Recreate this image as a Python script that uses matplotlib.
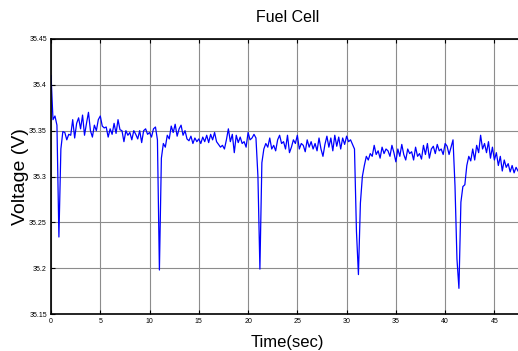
import numpy as np
import matplotlib
matplotlib.use("Agg")
import matplotlib.pyplot as plt

# sample period of the trace (sec)
dt = 0.2

# fuel cell voltage, every 0.2 s from t = 0
voltage = [
    # 0 - 5 s
    35.410, 35.362, 35.366, 35.356, 35.234, 35.330, 35.349, 35.348, 35.340, 35.346,
    35.345, 35.362, 35.342, 35.358, 35.364, 35.352, 35.367, 35.345, 35.358, 35.370,
    35.350, 35.343, 35.356, 35.350, 35.362,
    # 5 - 10 s
    35.366, 35.355, 35.353, 35.354, 35.343, 35.352, 35.346, 35.358, 35.347, 35.362,
    35.351, 35.350, 35.338, 35.350, 35.345, 35.348, 35.340, 35.350, 35.346, 35.341,
    35.350, 35.337, 35.350, 35.352, 35.346,
    # 10 - 15 s
    35.348, 35.343, 35.352, 35.354, 35.340, 35.198, 35.320, 35.336, 35.332, 35.345,
    35.341, 35.355, 35.348, 35.357, 35.344, 35.352, 35.356, 35.345, 35.350, 35.341,
    35.339, 35.344, 35.336, 35.342, 35.338,
    # 15 - 20 s
    35.341, 35.336, 35.343, 35.338, 35.345, 35.337, 35.346, 35.340, 35.348, 35.338,
    35.335, 35.332, 35.334, 35.330, 35.340, 35.352, 35.338, 35.346, 35.326, 35.345,
    35.337, 35.343, 35.336, 35.338, 35.332,
    # 20 - 25 s
    35.348, 35.340, 35.342, 35.346, 35.342, 35.300, 35.199, 35.315, 35.330, 35.336,
    35.332, 35.342, 35.330, 35.334, 35.328, 35.340, 35.345, 35.336, 35.338, 35.330,
    35.345, 35.326, 35.332, 35.340, 35.336,
    # 25 - 30 s
    35.345, 35.330, 35.336, 35.334, 35.327, 35.340, 35.332, 35.338, 35.330, 35.336,
    35.328, 35.342, 35.330, 35.322, 35.335, 35.344, 35.332, 35.342, 35.328, 35.345,
    35.333, 35.343, 35.330, 35.342, 35.335,
    # 30 - 35 s
    35.344, 35.338, 35.340, 35.335, 35.330, 35.240, 35.193, 35.271, 35.300, 35.312,
    35.322, 35.318, 35.325, 35.322, 35.334, 35.324, 35.328, 35.320, 35.332, 35.325,
    35.330, 35.328, 35.322, 35.334, 35.326,
    # 35 - 40 s
    35.316, 35.330, 35.322, 35.335, 35.324, 35.318, 35.330, 35.325, 35.327, 35.318,
    35.332, 35.322, 35.325, 35.319, 35.334, 35.324, 35.336, 35.320, 35.330, 35.333,
    35.325, 35.335, 35.328, 35.330, 35.324,
    # 40 - 45 s
    35.336, 35.333, 35.324, 35.332, 35.340, 35.290, 35.210, 35.178, 35.272, 35.289,
    35.291, 35.312, 35.322, 35.317, 35.330, 35.318, 35.334, 35.326, 35.345, 35.330,
    35.336, 35.326, 35.338, 35.320, 35.332,
    # 45 - 47.4 s
    35.318, 35.326, 35.312, 35.322, 35.306, 35.318, 35.310, 35.314, 35.305, 35.312,
    35.304, 35.310, 35.306,
]

x_ticks = [0, 5, 10, 15, 20, 25, 30, 35, 40, 45]
y_ticks = [35.15, 35.2, 35.25, 35.3, 35.35, 35.4, 35.45]
y_tick_labels = ["35.15", "35.2", "35.25", "35.3", "35.35", "35.4", "35.45"]

time = np.arange(len(voltage)) * dt

plt.rcParams["font.family"] = ["Liberation Sans", "DejaVu Sans"]

fig = plt.figure(figsize=(5.18, 3.51), dpi=100)
# axes run past the right edge of the picture, as in the reference
ax = fig.add_axes([0.0985, 0.1054, 0.913, 0.7835])

ax.plot(time, voltage, color="#0000ff", lw=0.9)

ax.set_xlim(0, 48)
ax.set_ylim(35.15, 35.45)
ax.set_xticks(x_ticks)
ax.set_yticks(y_ticks)
ax.set_yticklabels(y_tick_labels)
ax.tick_params(direction="in", length=3, width=0.8, labelsize=5, pad=3,
               top=True, right=False)
ax.grid(True, color="#8c8c8c", lw=0.8)
for s in ax.spines.values():
    s.set_linewidth(1.2)

ax.set_title("Fuel Cell", fontsize=11.5, pad=12)
ax.set_xlabel("Time(sec)", fontsize=12)
ax.set_ylabel("Voltage (V)", fontsize=14)
ax.xaxis.set_label_coords(0.5, -0.075)
ax.yaxis.set_label_coords(-0.046, 0.5)

fig.savefig("out.png", dpi=100, facecolor="white")
